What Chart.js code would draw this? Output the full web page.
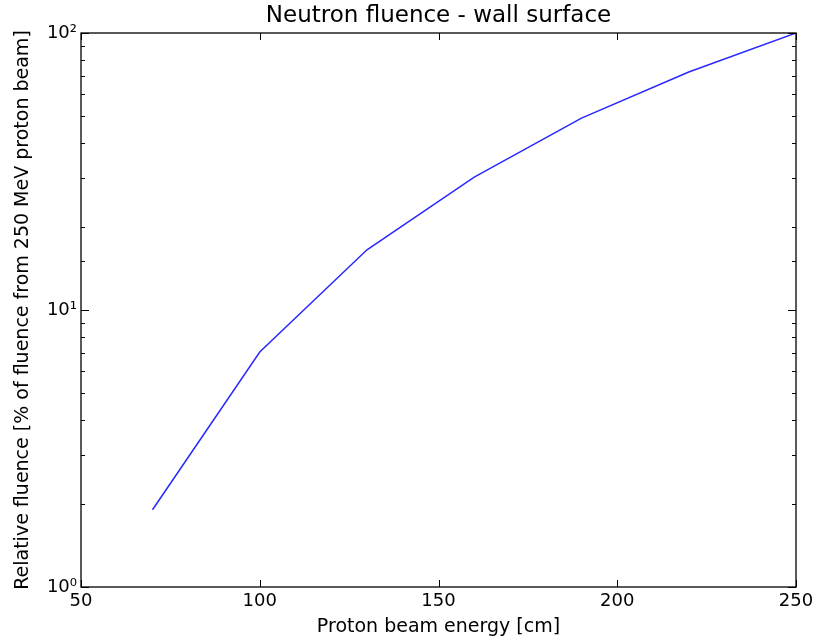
<!DOCTYPE html>
<html>
<head>
<meta charset="utf-8">
<script src="https://cdn.jsdelivr.net/npm/chart.js@4/dist/chart.umd.min.js"></script>
<style>
  html, body { margin: 0; padding: 0; background: #fff; }
  #wrap { width: 815px; height: 638px; }
</style>
</head>
<body>
<div id="wrap"><canvas id="fluenceChart"></canvas></div>
<script>
const energies = [70, 100, 130, 160, 190, 220, 250];
const fluence = [1.9, 7.05, 16.5, 30.2, 49.3, 72.3, 100];
const superscripts = { 1: "10\u2070", 10: "10\u00b9", 100: "10\u00b2" };

// matplotlib-style frame with inward ticks
const frameTicks = {
  id: "frameTicks",
  afterDraw(chart) {
    const ctx = chart.ctx;
    const area = chart.chartArea;
    const xScale = chart.scales.x;
    const yScale = chart.scales.y;
    ctx.save();
    ctx.strokeStyle = "#000";
    ctx.lineWidth = 1;
    xScale.ticks.forEach((t) => {
      const px = Math.round(xScale.getPixelForValue(t.value)) + 0.5;
      ctx.beginPath();
      ctx.moveTo(px, area.bottom);
      ctx.lineTo(px, area.bottom - 7);
      ctx.moveTo(px, area.top);
      ctx.lineTo(px, area.top + 7);
      ctx.stroke();
    });
    yScale.ticks.forEach((t) => {
      const py = Math.round(yScale.getPixelForValue(t.value)) + 0.5;
      const major = superscripts[t.value] !== undefined;
      const len = major ? 8 : 4;
      ctx.beginPath();
      ctx.moveTo(area.left, py);
      ctx.lineTo(area.left + len, py);
      ctx.moveTo(area.right, py);
      ctx.lineTo(area.right - len, py);
      ctx.stroke();
    });
    ctx.lineWidth = 1.3;
    ctx.strokeRect(area.left, area.top, area.right - area.left, area.bottom - area.top);
    ctx.restore();
  },
};

const ctx = document.getElementById("fluenceChart").getContext("2d");
new Chart(ctx, {
  type: "line",
  data: {
    datasets: [
      {
        data: energies.map((e, i) => ({ x: e, y: fluence[i] })),
        borderColor: "#2828ff",
        borderWidth: 1.5,
        pointRadius: 0,
        fill: false,
        tension: 0,
      },
    ],
  },
  options: {
    responsive: true,
    maintainAspectRatio: false,
    animation: false,
    layout: { padding: { left: 0, right: 19, top: 0, bottom: 0 } },
    plugins: {
      legend: { display: false },
      tooltip: { enabled: false },
      title: {
        display: true,
        fullSize: false,
        text: "Neutron fluence - wall surface",
        color: "#000",
        font: { family: "DejaVu Sans", size: 23, weight: "normal", lineHeight: 1.2 },
        padding: { top: 2, bottom: 3.4 },
      },
    },
    scales: {
      x: {
        type: "linear",
        min: 50,
        max: 250,
        ticks: {
          stepSize: 50,
          color: "#000",
          padding: 4,
          font: { family: "DejaVu Sans", size: 18 },
          maxRotation: 0,
        },
        grid: { display: false, drawTicks: false },
        border: { display: false },
        title: {
          display: true,
          text: "Proton beam energy [cm]",
          color: "#000",
          font: { family: "DejaVu Sans", size: 19 },
          padding: { top: 0, bottom: 0 },
        },
        afterFit(scale) {
          scale.height = 51;
          scale.paddingRight = 0;
        },
      },
      y: {
        type: "logarithmic",
        min: 1,
        max: 100,
        ticks: {
          color: "#000",
          padding: 4,
          font: { family: "DejaVu Sans", size: 18 },
          autoSkip: false,
          callback: (value) => superscripts[value] || "",
        },
        grid: { display: false, drawTicks: false },
        border: { display: false },
        title: {
          display: true,
          text: "Relative fluence [% of fluence from 250 MeV proton beam]",
          color: "#000",
          font: { family: "DejaVu Sans", size: 19 },
          padding: { top: 12, bottom: 0 },
        },
        afterFit(scale) {
          scale.width = 81;
        },
      },
    },
  },
  plugins: [frameTicks],
});
</script>
</body>
</html>
